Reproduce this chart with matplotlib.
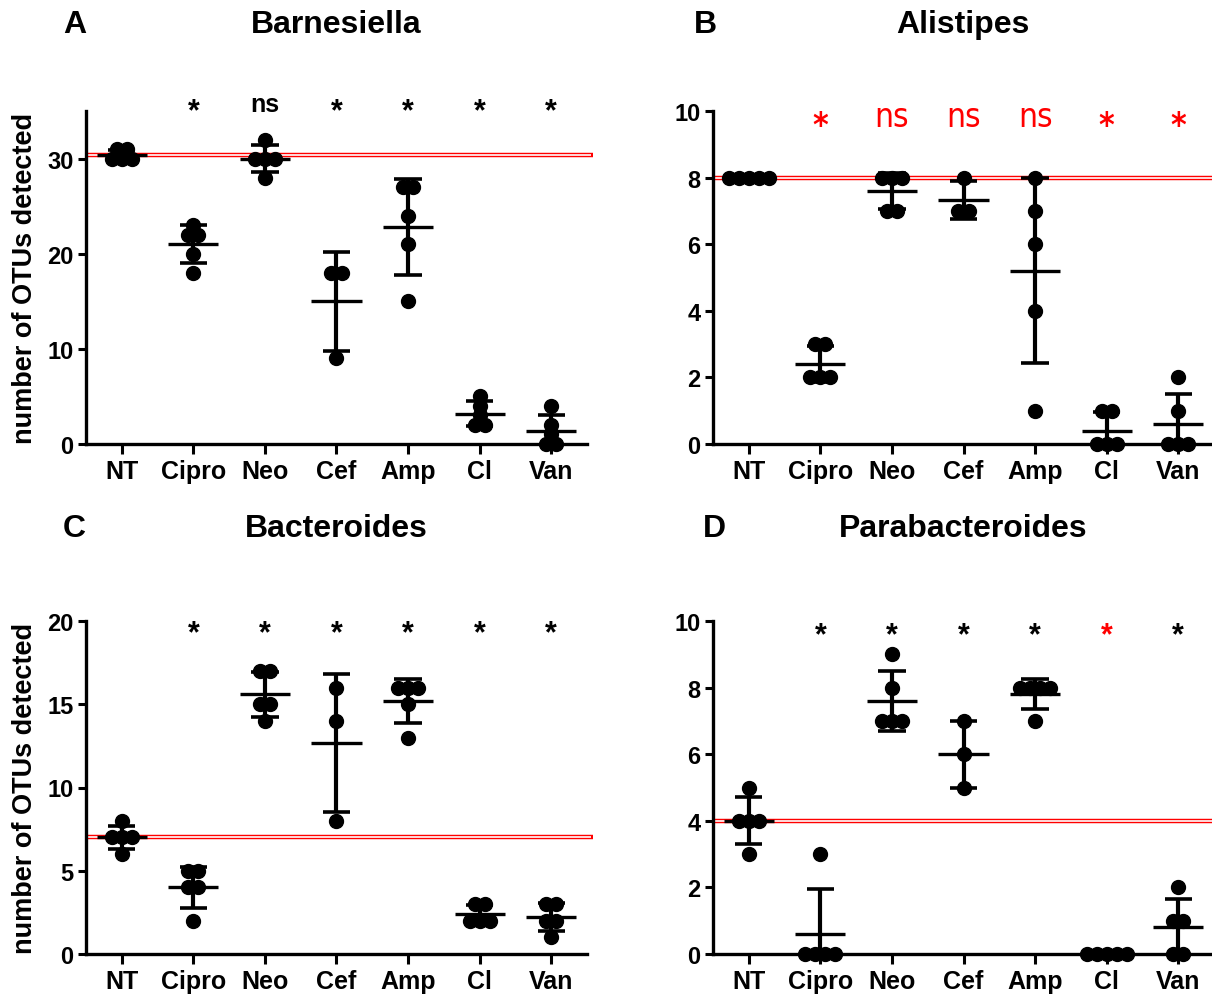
import numpy as np
import matplotlib
matplotlib.use("Agg")
import matplotlib.pyplot as plt
from matplotlib import font_manager

plt.rcParams['font.family'] = ['Liberation Sans', 'DejaVu Sans']

groups = ["NT", "Cipro", "Neo", "Cef", "Amp", "Cl", "Van"]

# OTU counts per mouse, per treatment group
barnesiella = [
    [31, 31, 30, 30, 30],
    [23, 22, 22, 20, 18],
    [32, 30, 30, 30, 28],
    [18, 18, 9],
    [27, 27, 24, 21, 15],
    [5, 4, 3, 2, 2],
    [4, 2, 1, 0, 0],
]
alistipes = [
    [8, 8, 8, 8, 8],
    [3, 3, 2, 2, 2],
    [8, 8, 8, 7, 7],
    [8, 7, 7],
    [8, 7, 6, 4, 1],
    [1, 1, 0, 0, 0],
    [2, 1, 0, 0, 0],
]
bacteroides = [
    [8, 7, 7, 7, 6],
    [5, 5, 4, 4, 2],
    [17, 17, 15, 15, 14],
    [16, 14, 8],
    [16, 16, 16, 15, 13],
    [3, 3, 2, 2, 2],
    [3, 3, 2, 2, 1],
]
parabacteroides = [
    [5, 4, 4, 4, 3],
    [3, 0, 0, 0, 0],
    [9, 8, 7, 7, 7],
    [7, 6, 5],
    [8, 8, 8, 8, 7],
    [0, 0, 0, 0, 0],
    [2, 1, 1, 0, 0],
]

sig_a = ["*", "ns", "*", "*", "*", "*"]
sig_b = ["*", "ns", "ns", "ns", "*", "*"]
sig_c = ["*", "*", "*", "*", "*", "*"]
sig_d = ["*", "*", "*", "*", "*", "*"]
sig_d_colors = ["black", "black", "black", "black", "red", "black"]

# condensed face for the red labels if it is installed
has_condensed = any(f.name == 'DejaVu Sans' and f.stretch == 'condensed'
                    for f in font_manager.fontManager.ttflist)
red_kw = dict(family='DejaVu Sans')
if has_condensed:
    red_kw['fontstretch'] = 'condensed'
red_ns_size = 24 if has_condensed else 21

W, H = 1212, 995
fig = plt.figure(figsize=(W / 100, H / 100), dpi=100)


def px_axes(left, top, right, bottom):
    return fig.add_axes([left / W, 1 - bottom / H, (right - left) / W, (bottom - top) / H])


def spread(vals, step=0.14):
    # horizontal offsets so that equal values sit side by side
    vals = np.asarray(vals)
    offs = np.zeros(len(vals))
    for v in np.unique(vals):
        idx = np.where(vals == v)[0]
        k = len(idx)
        offs[idx] = (np.arange(k) - (k - 1) / 2) * step
    return offs


def panel(ax, data, ymax, yticks, ylabel=False):
    x = np.arange(len(groups))
    for i, vals in enumerate(data):
        vals = np.asarray(vals, dtype=float)
        m = vals.mean()
        sd = vals.std(ddof=1)
        ax.plot(i + spread(vals), vals, 'o', color='black', ms=10, zorder=3, clip_on=False)
        ax.plot([i - 0.35, i + 0.35], [m, m], color='black', lw=2.4, zorder=4,
                solid_capstyle='butt')
        ax.plot([i, i], [max(m - sd, 0), m + sd], color='black', lw=3, zorder=4,
                solid_capstyle='butt')
        for y in (m - sd, m + sd):
            if y >= 0:
                ax.plot([i - 0.19, i + 0.19], [y, y], color='black', lw=2.6, zorder=4,
                        solid_capstyle='butt')
    # NT mean as reference line
    ref = np.mean(data[0])
    ax.plot([-0.5, 6.58], [ref, ref], color='red', lw=3.2, zorder=1, clip_on=False,
            solid_capstyle='butt')
    ax.plot([-0.48, 6.56], [ref, ref], color='white', lw=1.2, zorder=1, clip_on=False,
            solid_capstyle='butt')

    ax.set_xlim(-0.5, 6.5)
    ax.set_ylim(0, ymax)
    ax.set_xticks(x)
    ax.set_xticklabels(groups)
    ax.set_yticks(yticks)
    for s in ("top", "right"):
        ax.spines[s].set_visible(False)
    for s in ("left", "bottom"):
        ax.spines[s].set_linewidth(2.4)
    ax.tick_params(axis='both', width=2.2, direction='out')
    ax.tick_params(axis='x', length=7, pad=4, labelsize=18)
    ax.tick_params(axis='y', length=6, pad=3, labelsize=17)
    for lab in ax.get_xticklabels() + ax.get_yticklabels():
        lab.set_fontweight('bold')
    if ylabel:
        ax.set_ylabel("number of OTUs detected", fontsize=19.5, fontweight='bold')
        ax.yaxis.set_label_coords(-0.095, 0.5)


def sig_row(ax, labels, star_top, ns_base, colors, size_star, size_ns,
            ns_weight='bold', **kw):
    bottom = ax_bottom[ax]
    for i, s in enumerate(labels):
        if s == "*":
            y, va, fs, fw = (bottom - star_top) / 333, 'top', size_star, 'bold'
        else:
            y, va, fs, fw = (bottom - ns_base) / 333, 'baseline', size_ns, ns_weight
        ax.text(i + 1, y, s, transform=ax.get_xaxis_transform(), ha='center',
                va=va, fontsize=fs, fontweight=fw, color=colors[i], **kw)


axA = px_axes(86, 112, 587, 445)
axB = px_axes(713, 112, 1214, 445)
axC = px_axes(86, 622, 587, 955)
axD = px_axes(713, 622, 1214, 955)
ax_bottom = {axA: 445, axB: 445, axC: 955, axD: 955}

panel(axA, barnesiella, 35, [0, 10, 20, 30], ylabel=True)
panel(axB, alistipes, 10, [0, 2, 4, 6, 8, 10])
panel(axC, bacteroides, 20, [0, 5, 10, 15, 20], ylabel=True)
panel(axD, parabacteroides, 10, [0, 2, 4, 6, 8, 10])

# panel titles and letters
for text, xpx, ypx in [("Barnesiella", 336, 33), ("Alistipes", 963, 33),
                       ("Bacteroides", 336, 537), ("Parabacteroides", 963, 537),
                       ("A", 75, 33), ("B", 705, 33), ("C", 74, 537), ("D", 714, 537)]:
    fig.text(xpx / W, 1 - ypx / H, text, ha='center', va='baseline',
             fontsize=23, fontweight='bold')

sig_row(axA, sig_a, 97, 112, ["black"] * 6, 22, 18)
sig_row(axB, sig_b, 110, 127, ["red"] * 6, 24, red_ns_size, ns_weight='normal', **red_kw)
sig_row(axC, sig_c, 619, 634, ["black"] * 6, 22, 18)
sig_row(axD, sig_d, 621, 636, sig_d_colors, 22, 18)

fig.savefig("out.png", dpi=100)
